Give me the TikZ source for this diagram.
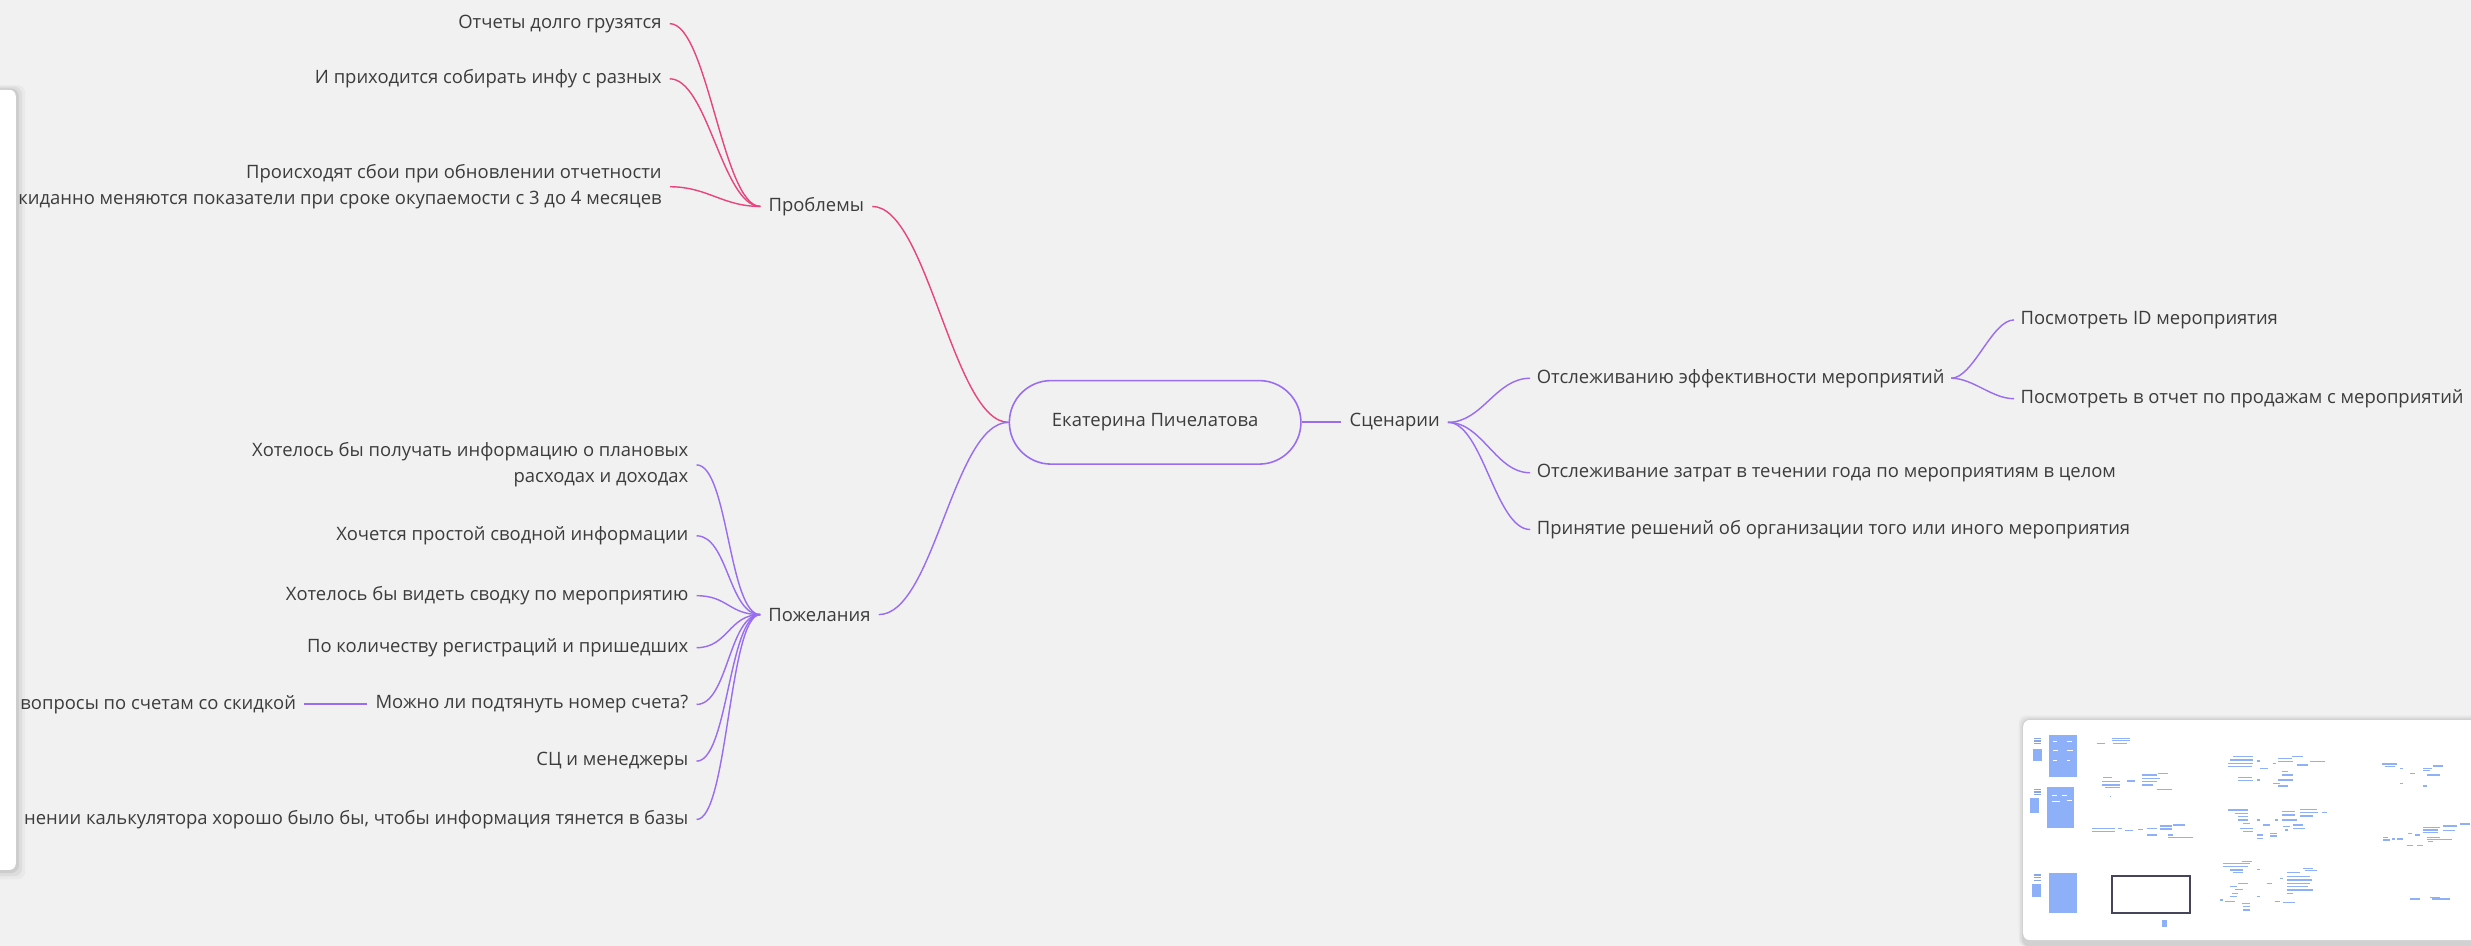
\documentclass[tikz,border=0pt]{standalone}
\usepackage{fontspec}
\setmainfont{Open Sans}
\definecolor{bg}{HTML}{F1F1F1}
\definecolor{txt}{HTML}{3C3C3C}
\definecolor{pinkc}{HTML}{E8457E}
\definecolor{purp}{HTML}{9A6CF0}
\definecolor{mmblue}{HTML}{8DB0F8}
\definecolor{frame}{HTML}{45455A}
\begin{document}
\begin{tikzpicture}[x=1pt,y=-1pt,
  every node/.style={font=\fontsize{11.7}{16.5}\selectfont, text=txt, inner sep=0pt},
  leafL/.style={anchor=east, align=right, inner xsep=5pt},
  leafR/.style={anchor=west, align=left, inner xsep=4pt},
  branch/.style={inner xsep=5pt},
  pk/.style={draw=pinkc, line width=0.9pt},
  pu/.style={draw=purp, line width=0.9pt},
  mm/.style={draw=mmblue, line width=0.7pt},
  mmfill/.style={fill=mmblue},
]
\fill[bg] (0,0) rectangle (1568,600);
\useasboundingbox (0,0) rectangle (1568,600);

% ---- central node
\node[draw=purp, line width=1pt, rounded corners=26.5pt, minimum width=185pt, minimum height=53pt] (c) at (733,268) {Екатерина Пичелатова};

% ---- Problems
\node[branch] (prob) at (518,131) {Проблемы};
\node[leafL] (p1) at (425,15) {Отчеты долго грузятся};
\node[leafL] (p2) at (425,50) {И приходится собирать инфу с разных};
\node[leafL] (p3) at (425,118.5) {Происходят сбои при обновлении отчетности\\киданно меняются показатели при сроке окупаемости с 3 до 4 месяцев};
\foreach \n in {p1,p2,p3}
  \draw[pk] (\n.east) .. controls +(24,0) and +(-24,0) .. (prob.west);
\draw[pk] (prob.east) .. controls +(35,0) and +(-35,0) .. (c.west);

% ---- Wishes
\node[branch] (wish) at (520,390) {Пожелания};
\node[leafL] (w1) at (442,295) {Хотелось бы получать информацию о плановых\\расходах и доходах};
\node[leafL] (w2) at (442,340) {Хочется простой сводной информации};
\node[leafL] (w3) at (442,378) {Хотелось бы видеть сводку по мероприятию};
\node[leafL] (w4) at (442,411) {По количеству регистраций и пришедших};
\node[leafL] (w5) at (442,447) {Можно ли подтянуть номер счета?};
\node[leafL] (w6) at (442,483) {СЦ и менеджеры};
\node[leafL] (w7) at (442,520) {нении калькулятора хорошо было бы, чтобы информация тянется в базы};
\node[leafL] (w5a) at (193,447) {вопросы по счетам со скидкой};
\foreach \n in {w1,w2,w3,w4,w5,w6,w7}
  \draw[pu] (\n.east) .. controls +(20,0) and +(-20,0) .. (wish.west);
\draw[pu, line width=1.3pt] (w5.west) -- (w5a.east);
\draw[pu] (wish.east) .. controls +(35,0) and +(-35,0) .. (c.west);

% ---- Scenarios
\node[branch] (sc) at (885,268) {Сценарии};
\draw[pu, line width=1.2pt] (c.east) -- (sc.west);
\node[leafR] (s1) at (971,240) {Отслеживанию эффективности мероприятий};
\node[leafR] (s2) at (971,300) {Отслеживание затрат в течении года по мероприятиям в целом};
\node[leafR] (s3) at (971,336) {Принятие решений об организации того или иного мероприятия};
\foreach \n in {s1,s2,s3}
  \draw[pu] (sc.east) .. controls +(22,0) and +(-22,0) .. (\n.west);
\node[leafR] (s11) at (1278,203) {Посмотреть ID мероприятия};
\node[leafR] (s12) at (1278,253) {Посмотреть в отчет по продажам с мероприятий};
\foreach \n in {s11,s12}
  \draw[pu] (s1.east) .. controls +(14,0) and +(-14,0) .. (\n.west);

% ---- left panel (occludes text)
\foreach \o/\a in {6/0.03,4/0.05,2/0.07}
  \fill[black, opacity=\a, rounded corners=5pt] (-20,57-\o/2) rectangle (10+\o,552+\o);
\fill[white, rounded corners=4pt] (-20,57) rectangle (10,552);

% ---- minimap
\begin{scope}[shift={(1262.7,444.2)}, x=0.2115pt, y=-0.2115pt]
  \foreach \o/\a in {14/0.03,9/0.04,4/0.06}
    \fill[black, opacity=\a, rounded corners=5pt] (100-\o,60-\o) rectangle (1500,740);
  \fill[white, rounded corners=4pt] (100,60) rectangle (1500,720);
  % icons
  \foreach \y in {115,268,525}{
    \draw[mm, draw=mmblue!80!gray] (132,\y) -- (152,\y);
    \draw[mm, draw=mmblue!80!gray] (132,\y+8) -- (152,\y+8);
    \draw[mm, draw=mmblue!80!gray] (132,\y+16) -- (152,\y+16);
  }
  \fill[mmfill] (128,148) rectangle (155,183);
  \fill[mmfill] (120,295) rectangle (148,340);
  \fill[mmfill] (125,553) rectangle (153,590);
  % tall blocks
  \fill[mmfill] (178,105) rectangle (262,230);
  \fill[mmfill] (170,262) rectangle (252,385);
  \fill[mmfill] (178,518) rectangle (260,640);
  \foreach \a/\b/\c in {190/200/125,230/245/125,190/205/150,230/250/150,190/200/180,230/240/180,
      185/200/285,215/230/285,185/210/305,230/245/300}
    \draw[draw=white, line width=0.5pt] (\a,\c) -- (\b,\c);
  % scribbles
  \foreach \a/\b/\c in {
    320/345/130, 365/420/115, 365/420/122, 370/410/130,
    340/365/232, 335/390/245, 335/390/255, 345/390/262, 410/435/243,
    455/500/225, 455/510/235, 455/500/245, 455/490/255, 505/535/220, 500/545/268, 360/364/290,
    305/375/385, 305/375/395, 385/395/385, 405/430/392, 445/460/388, 470/500/385,
    510/545/378, 510/545/387, 550/585/375, 470/500/405, 535/550/405, 535/610/413,
    730/790/170, 720/790/180, 715/790/190, 715/785/200, 800/810/183, 810/835/205,
    848/858/190, 865/905/175, 865/910/185, 905/940/170, 920/955/195, 960/1005/185,
    875/895/215, 875/910/225, 745/785/232, 745/790/242, 800/810/240, 850/870/250,
    865/910/240, 865/895/258,
    715/775/330, 735/775/340, 745/775/350, 745/775/360, 760/780/370, 750/790/385,
    760/790/395, 800/810/360, 820/840/375, 855/865/360, 875/915/335, 875/915/345,
    875/920/360, 930/980/328, 930/985/338, 930/970/348, 995/1010/337, 880/900/380,
    910/940/375, 910/945/385, 885/895/390, 800/820/405, 800/820/415, 840/860/400, 840/860/408,
    700/780/490, 755/785/485, 700/775/500, 720/760/510, 730/760/518, 800/810/508,
    745/775/550, 720/740/560, 735/760/568, 725/745/580, 720/740/590, 690/700/600,
    705/735/605, 755/780/610, 760/780/620, 760/780/630, 800/810/590, 830/845/550,
    870/880/535, 890/930/518, 890/960/530, 890/965/540, 890/960/550, 890/955/560, 890/970/570,
    940/970/505, 945/980/512, 890/910/580, 855/870/605, 880/915/608,
    1175/1220/192, 1185/1215/200, 1230/1240/205, 1260/1275/220, 1300/1325/205,
    1300/1320/212, 1330/1360/198, 1310/1350/225, 1230/1240/250, 1300/1310/258,
    1180/1195/412, 1180/1200/420, 1205/1215/417, 1220/1240/417, 1255/1265/400,
    1275/1290/405, 1300/1350/383, 1300/1345/390, 1300/1345/397, 1360/1400/378,
    1360/1395/392, 1410/1440/372, 1310/1350/412, 1310/1385/418, 1315/1330/425,
    1250/1270/437, 1280/1300/437, 1260/1290/597, 1320/1350/592, 1325/1380/597}
    \draw[mm] (\a,\c) -- (\b,\c);
  % viewport frame
  \draw[draw=frame, line width=1.1pt] (366,528) rectangle (601,639);
  \fill[mmfill] (515,660) rectangle (530,680);
\end{scope}
\end{tikzpicture}
\end{document}
